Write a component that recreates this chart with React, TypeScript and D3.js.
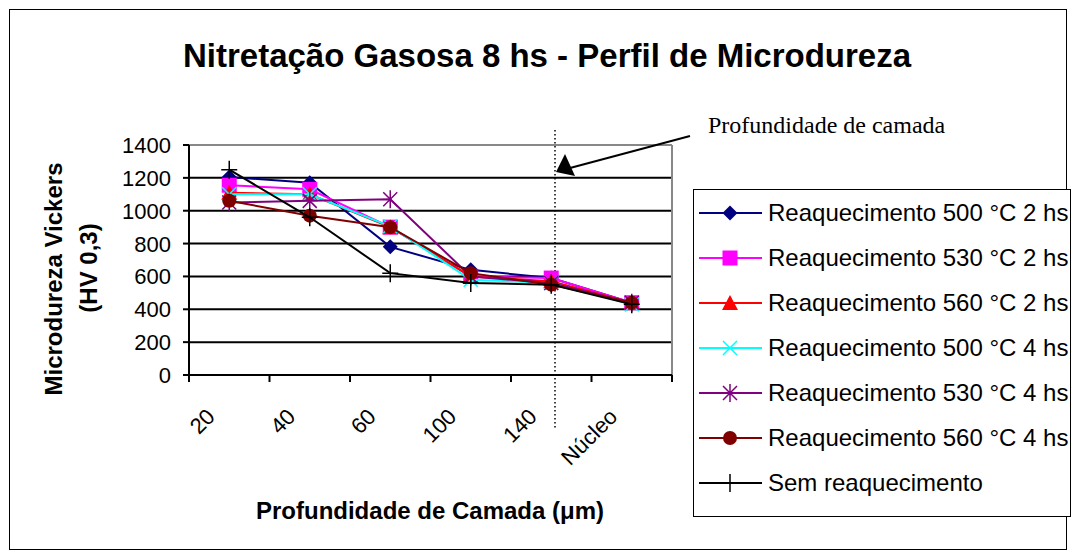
import React from 'react';
import * as d3 from 'd3';

const categories = ['20', '40', '60', '100', '140', 'Núcleo'];
const yTicks = [0, 200, 400, 600, 800, 1000, 1200, 1400];

const seriesNames = [
  'Reaquecimento 500 °C 2 hs',
  'Reaquecimento 530 °C 2 hs',
  'Reaquecimento 560 °C 2 hs',
  'Reaquecimento 500 °C 4 hs',
  'Reaquecimento 530 °C 4 hs',
  'Reaquecimento 560 °C 4 hs',
  'Sem reaquecimento',
];

const r500h2 = [1205, 1170, 780, 640, 590, 440];
const r530h2 = [1155, 1130, 900, 600, 590, 440];
const r560h2 = [1110, 1100, 900, 600, 570, 440];
const r500h4 = [1100, 1100, 905, 580, 560, 430];
const r530h4 = [1050, 1060, 1070, 600, 560, 440];
const r560h4 = [1060, 970, 900, 620, 550, 440];
const semReaq = [1250, 960, 620, 560, 550, 430];

const seriesValues = [r500h2, r530h2, r560h2, r500h4, r530h4, r560h4, semReaq];
const seriesColors = ['#000080', '#FF00FF', '#FF0000', '#00FFFF', '#800080', '#800000', '#000000'];
const seriesMarkers = ['diamond', 'square', 'triangle', 'x', 'star', 'circle', 'plus'];

const FONT = '"Liberation Sans", Arial, sans-serif';
const SERIF = '"Liberation Serif", "Times New Roman", serif';

const Marker: React.FC<{ type: string; color: string; x: number; y: number }> = ({ type, color, x, y }) => {
  const t = `translate(${x},${y})`;
  switch (type) {
    case 'diamond':
      return <path transform={t} d="M0,-7.5L7.5,0L0,7.5L-7.5,0Z" fill={color} />;
    case 'square':
      return <rect x={x - 7.5} y={y - 7.5} width={15} height={15} fill={color} />;
    case 'triangle':
      return <path transform={t} d="M0,-8L8,7L-8,7Z" fill={color} />;
    case 'x':
      return <path transform={t} d="M-7,-7L7,7M-7,7L7,-7" stroke={color} strokeWidth={1.5} />;
    case 'star':
      return <path transform={t} d="M-7,-7L7,7M-7,7L7,-7M0,-9L0,9" stroke={color} strokeWidth={1.5} />;
    case 'circle':
      return <circle cx={x} cy={y} r={7} fill={color} />;
    case 'plus':
      return <path transform={t} d="M-8,0L8,0M0,-9L0,9" stroke={color} strokeWidth={1.5} />;
    default:
      return null;
  }
};

export default function App() {
  const width = 1076;
  const height = 558;
  const plot = { left: 189, right: 672, top: 145, bottom: 375 };

  const x = d3.scaleBand<string>().domain(categories).range([plot.left, plot.right]);
  const y = d3.scaleLinear().domain([0, 1400]).range([plot.bottom, plot.top]);
  const cx = (c: string) => (x(c) as number) + x.bandwidth() / 2;

  const line = d3
    .line<number>()
    .x((_, i) => cx(categories[i]))
    .y((d) => y(d));

  const legendX = 693;
  const legendY = 189;
  const legendStep = 45;

  return (
    <svg width={width} height={height} style={{ position: 'absolute', left: 0, top: 0 }}>
      <rect x={0} y={0} width={width} height={height} fill="#fff" />
      <rect x={9.5} y={9.5} width={1057} height={540} fill="none" stroke="#000" strokeWidth={1} />

      <text x={547} y={67} textAnchor="middle" fontFamily={FONT} fontWeight="bold" fontSize={33}>
        Nitretação Gasosa 8 hs - Perfil de Microdureza
      </text>

      {/* gridlines */}
      {yTicks.slice(1).map((t) => (
        <line key={t} x1={plot.left} x2={plot.right} y1={y(t)} y2={y(t)} stroke="#000" strokeWidth={2} />
      ))}
      {/* plot border top/right */}
      <line x1={plot.left} x2={plot.right} y1={plot.top} y2={plot.top} stroke="#888" strokeWidth={2} />
      <line x1={plot.right} x2={plot.right} y1={plot.top} y2={plot.bottom} stroke="#888" strokeWidth={2} />

      {/* y axis */}
      <line x1={plot.left} x2={plot.left} y1={plot.top} y2={plot.bottom} stroke="#000" strokeWidth={2} />
      {yTicks.map((t) => (
        <g key={t}>
          <line x1={plot.left - 6} x2={plot.left} y1={y(t)} y2={y(t)} stroke="#000" strokeWidth={2} />
          <text x={171} y={y(t) + 8} textAnchor="end" fontFamily={FONT} fontSize={22}>
            {t}
          </text>
        </g>
      ))}

      {/* x axis */}
      <line x1={plot.left} x2={plot.right} y1={plot.bottom} y2={plot.bottom} stroke="#000" strokeWidth={2} />
      {[...categories.map((c) => x(c) as number), plot.right].map((p, i) => (
        <line key={i} x1={p} x2={p} y1={plot.bottom} y2={plot.bottom + 7} stroke="#000" strokeWidth={2} />
      ))}
      {categories.map((c) => (
        <text
          key={c}
          transform={`translate(${cx(c) - 13},${plot.bottom + 43}) rotate(-45)`}
          textAnchor="end"
          fontFamily={FONT}
          fontSize={22}
        >
          {c}
        </text>
      ))}

      {/* dotted layer-depth line */}
      <line x1={555} x2={555} y1={130} y2={430} stroke="#000" strokeWidth={1.5} strokeDasharray="1.5,2.5" />

      {/* series */}
      {seriesValues.map((vals, si) => (
        <g key={si}>
          <path d={line(vals) as string} fill="none" stroke={seriesColors[si]} strokeWidth={2} />
          {vals.map((v, i) => (
            <Marker key={i} type={seriesMarkers[si]} color={seriesColors[si]} x={cx(categories[i])} y={y(v)} />
          ))}
        </g>
      ))}

      {/* annotation */}
      <text x={708} y={133} fontFamily={SERIF} fontSize={24}>
        Profundidade de camada
      </text>
      <line x1={690} y1={136} x2={570} y2={168} stroke="#000" strokeWidth={2} />
      <path d="M556,172L565,154L575,176Z" fill="#000" />

      {/* axis titles */}
      <text
        transform="translate(62,279) rotate(-90)"
        textAnchor="middle"
        fontFamily={FONT}
        fontWeight="bold"
        fontSize={24}
      >
        Microdureza Vickers
      </text>
      <text
        transform="translate(97,268) rotate(-90)"
        textAnchor="middle"
        fontFamily={FONT}
        fontWeight="bold"
        fontSize={24}
      >
        (HV 0,3)
      </text>
      <text x={430} y={519} textAnchor="middle" fontFamily={FONT} fontWeight="bold" fontSize={24}>
        Profundidade de Camada (μm)
      </text>

      {/* legend */}
      <rect x={legendX + 0.5} y={legendY + 0.5} width={377} height={327} fill="#fff" stroke="#000" strokeWidth={1} />
      {seriesNames.map((name, i) => {
        const ly = 213 + i * legendStep;
        return (
          <g key={name}>
            <line x1={699} x2={762} y1={ly} y2={ly} stroke={seriesColors[i]} strokeWidth={2} />
            <Marker type={seriesMarkers[i]} color={seriesColors[i]} x={730} y={ly} />
            <text x={768} y={ly + 8} fontFamily={FONT} fontSize={24}>
              {name}
            </text>
          </g>
        );
      })}
    </svg>
  );
}
